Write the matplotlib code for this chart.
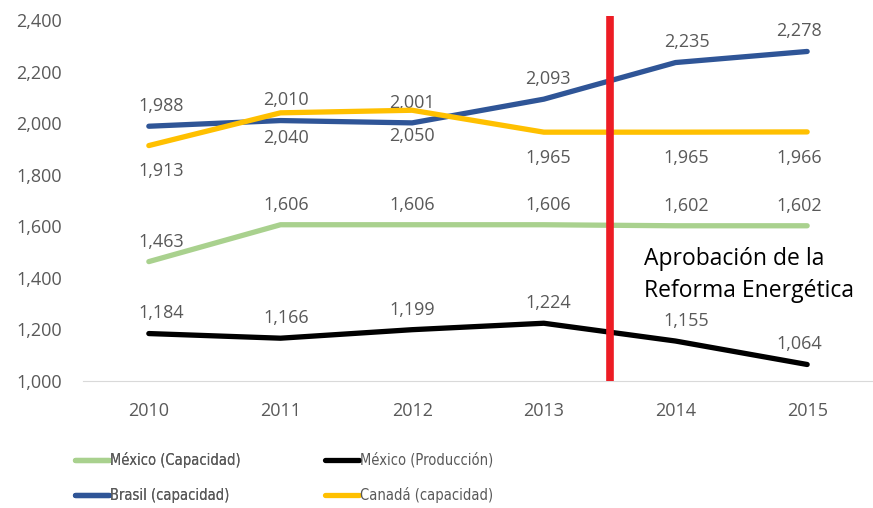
import matplotlib
matplotlib.use("Agg")
import matplotlib.pyplot as plt
from matplotlib.ticker import FuncFormatter, FixedLocator

# datos
years = ["2010", "2011", "2012", "2013", "2014", "2015"]
mex_cap = [1463, 1606, 1606, 1606, 1602, 1602]
mex_prod = [1184, 1166, 1199, 1224, 1155, 1064]
brasil_cap = [1988, 2010, 2001, 2093, 2235, 2278]
canada_cap = [1913, 2040, 2050, 1965, 1965, 1966]
reforma_pos = 3.5
reforma_text = "Aprobación de la\nReforma Energética"

# pequeño ajuste horizontal de las etiquetas (puntos), como en el original
label_nudge = [9, 4, 0, 3, 8, -6]

plt.rcParams['font.family'] = ['Open Sans', 'DejaVu Sans']
gray = "#595959"

fig = plt.figure(figsize=(8.73, 5.08), dpi=100)
ax = fig.add_axes([83 / 873, 1 - 381 / 508, (873 - 83) / 873, (381 - 20) / 508])

x = list(range(len(years)))
series = [
    ("México (Capacidad)", mex_cap, "#A9D18E", 8),
    ("México (Producción)", mex_prod, "#000000", 8),
    ("Brasil (capacidad)", brasil_cap, "#2F5597", 8),
    ("Canadá (capacidad)", canada_cap, "#FFC000", -12),
]
lines = {}
for name, vals, col, off in series:
    ln, = ax.plot(x, vals, color=col, lw=3.8, solid_capstyle="round", zorder=3)
    lines[name] = ln
    for xi, v in zip(x, vals):
        ax.annotate(f"{v:,}", (xi, v), xytext=(label_nudge[xi], off), textcoords="offset points",
                    ha="center", va="bottom" if off > 0 else "top",
                    fontsize=13, color=gray)

ax.axvline(reforma_pos, ymin=0, ymax=1.011, color="#ED1C24", lw=5.5, zorder=4,
           clip_on=False, solid_capstyle="butt")
ax.text(reforma_pos + 0.26, 1302, reforma_text, fontsize=16.5, color="#000000",
        ha="left", va="bottom", linespacing=1.45)

ax.set_xlim(-0.5, 5.5)
ax.set_ylim(1000, 2400)
ax.yaxis.set_major_locator(FixedLocator(range(1000, 2401, 200)))
ax.yaxis.set_major_formatter(FuncFormatter(lambda v, p: f"{int(v):,}"))
ax.set_xticks(x)
ax.set_xticklabels(years)
ax.tick_params(axis="both", length=0, labelsize=13, labelcolor=gray)
ax.tick_params(axis="y", pad=15)
ax.tick_params(axis="x", pad=15)
for s in ["top", "right", "left"]:
    ax.spines[s].set_visible(False)
ax.spines["bottom"].set_color("#D9D9D9")

leg_font = {"family": "DejaVu Sans", "stretch": "condensed", "size": 10.5}
leg1 = fig.legend([lines["México (Capacidad)"], lines["Brasil (capacidad)"]],
                  ["México (Capacidad)", "Brasil (capacidad)"],
                  loc="upper left", bbox_to_anchor=(62 / 873, 1 - 439 / 508),
                  frameon=False, prop=leg_font, handlelength=2.3, handletextpad=0.1,
                  labelspacing=1.35, labelcolor=gray)
fig.add_artist(leg1)
leg2 = fig.legend([lines["México (Producción)"], lines["Canadá (capacidad)"]],
                  ["México (Producción)", "Canadá (capacidad)"],
                  loc="upper left", bbox_to_anchor=(312 / 873, 1 - 439 / 508),
                  frameon=False, prop=leg_font, handlelength=2.3, handletextpad=0.1,
                  labelspacing=1.35, labelcolor=gray)

fig.savefig("out.png", dpi=100)
